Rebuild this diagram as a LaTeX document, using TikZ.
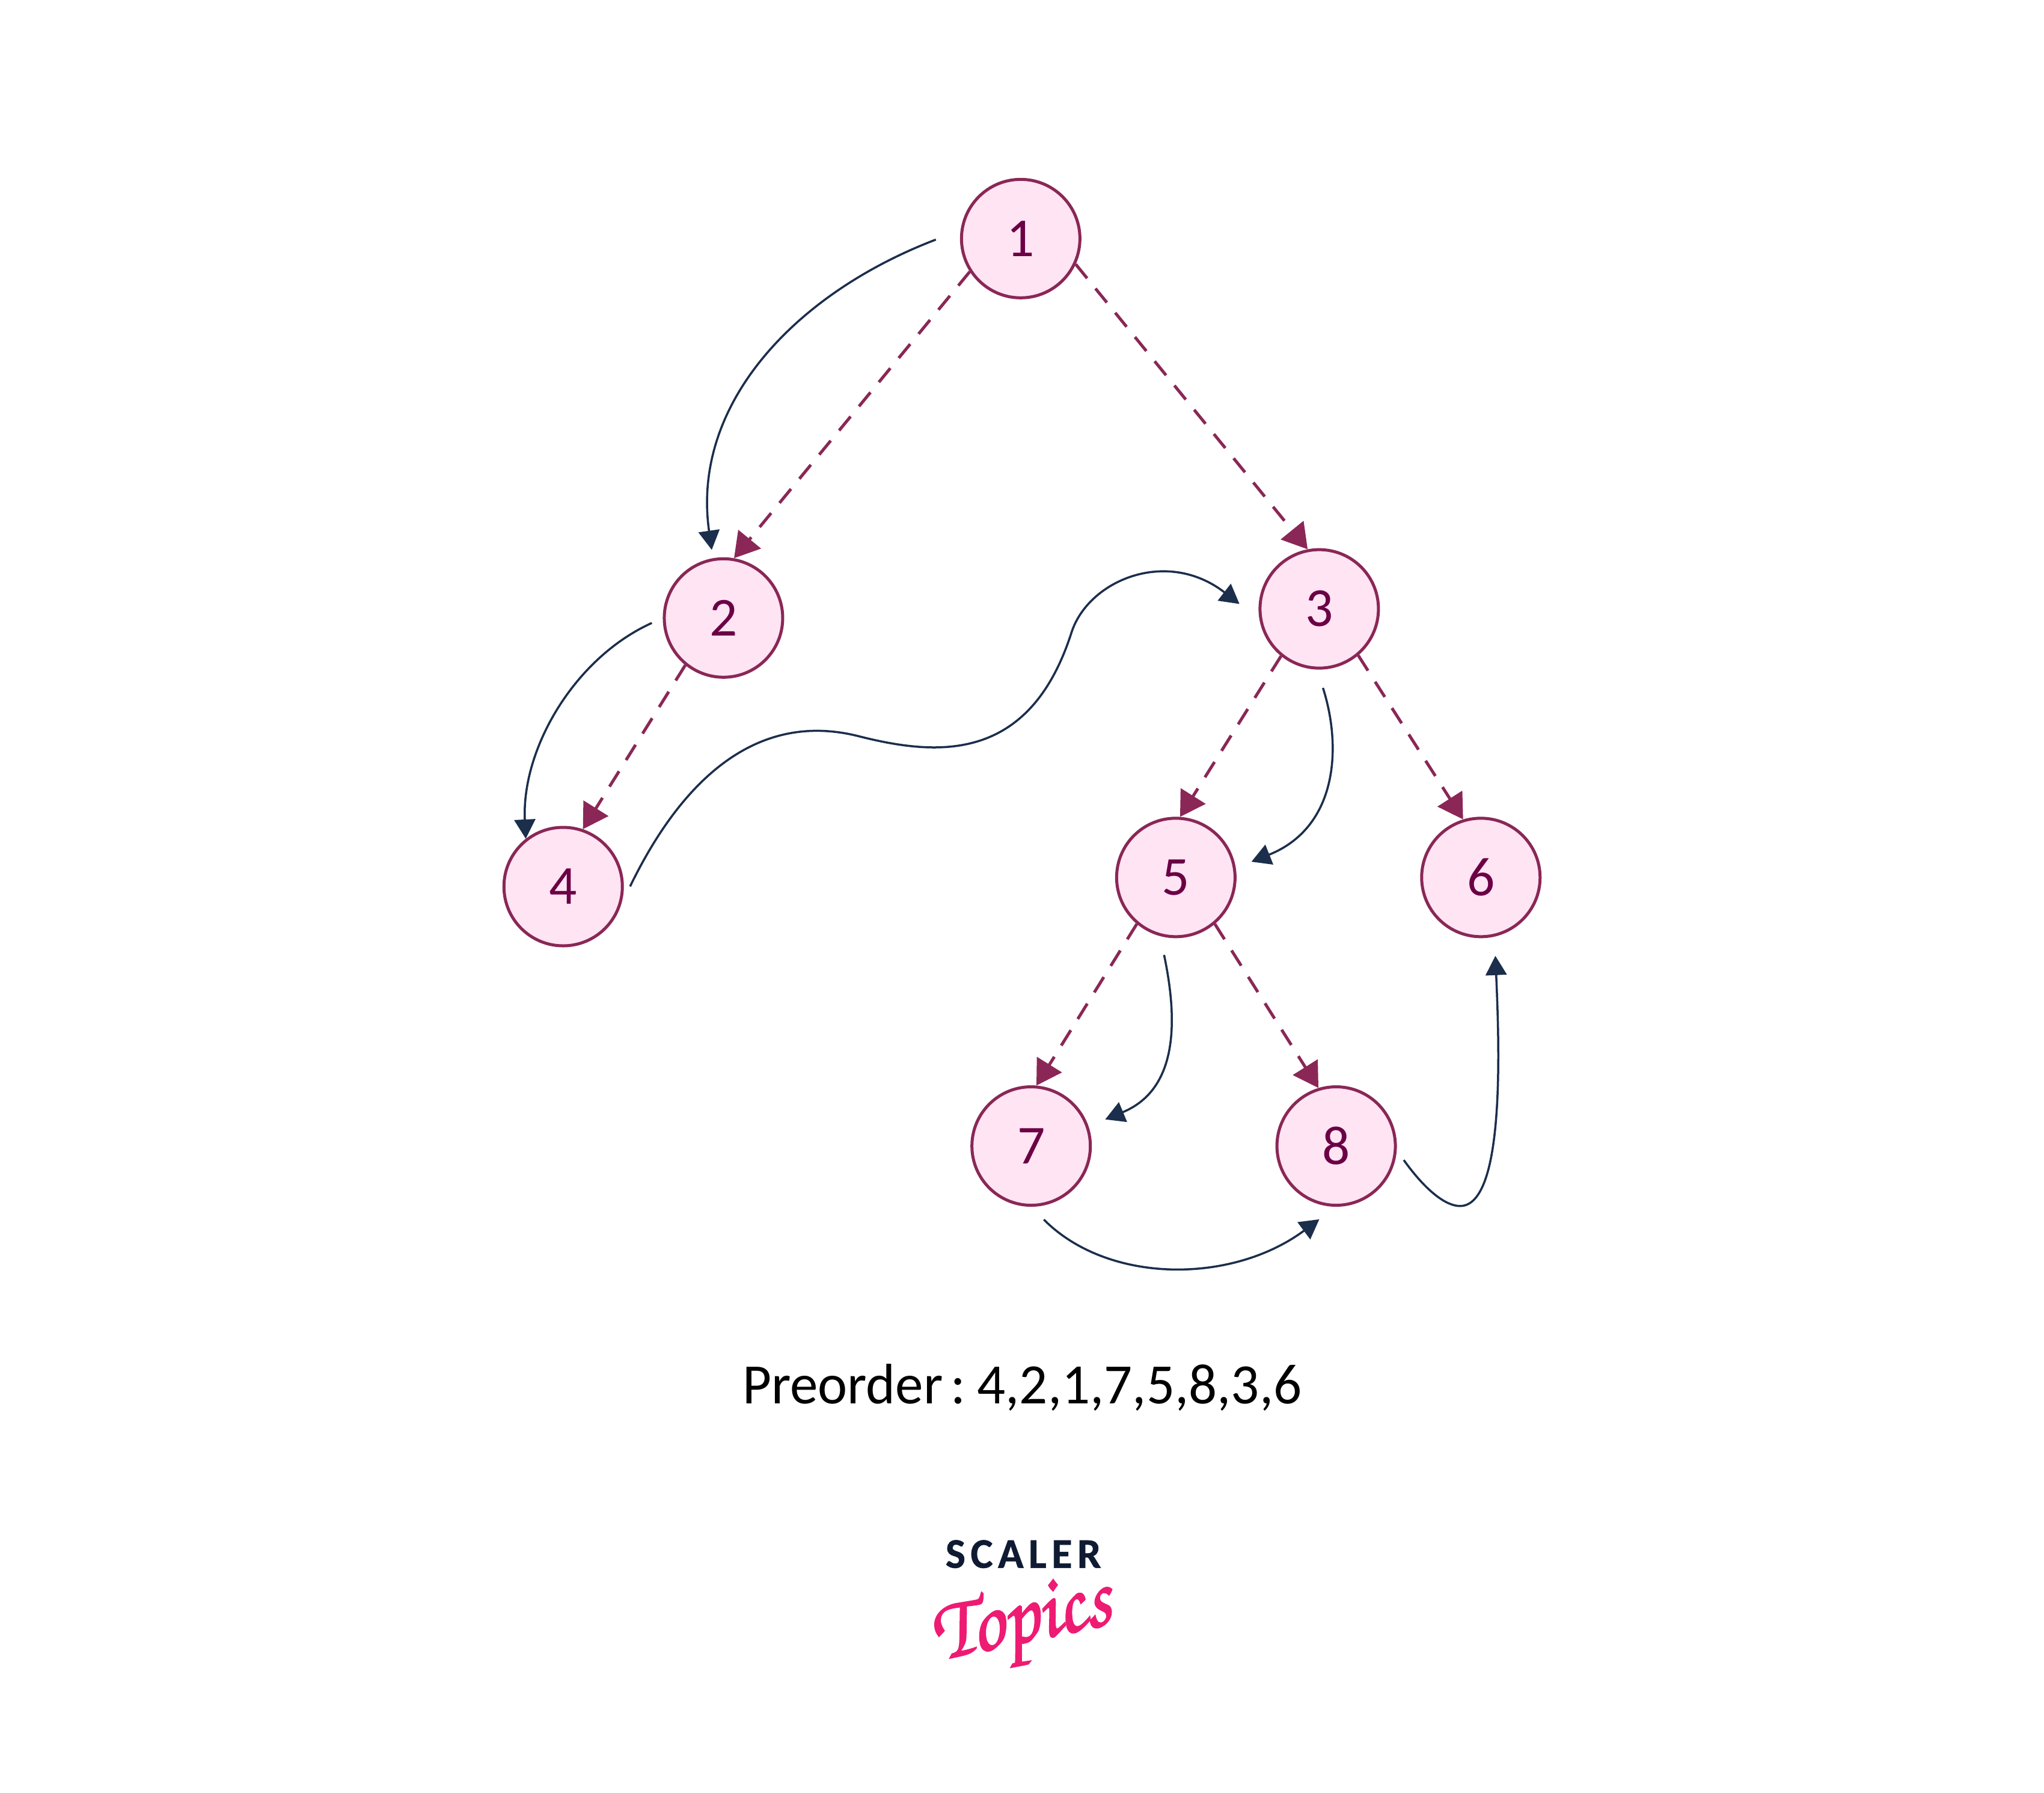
\documentclass[tikz,border=0pt]{standalone}
\usepackage{fontspec}
\setmainfont[WordSpace=0.6]{Carlito}
\newfontfamily\logofont[FakeBold=1.6]{TeX Gyre Chorus}
\usetikzlibrary{arrows.meta}
\definecolor{nodefill}{HTML}{FFE4F3}
\definecolor{nodeline}{HTML}{8A2756}
\definecolor{nodetext}{HTML}{6B0045}
\definecolor{flowline}{HTML}{1B2E4B}
\definecolor{logonavy}{HTML}{0F1B33}
\definecolor{logopink}{HTML}{EE1B73}
\tikzset{
    treenode/.style={circle,draw=nodeline,fill=nodefill,text=nodetext,line width=0.05cm,minimum size=1.97cm,inner sep=0pt,font=\fontsize{26}{26}\selectfont},
    edgearrow/.style={draw=nodeline,line width=0.05cm,dash pattern=on 0.3cm off 0.22cm,-{Triangle[length=0.41cm,width=0.48cm,fill=nodeline]}},
    flowarrow/.style={draw=flowline,line width=0.035cm,-{Triangle[length=0.32cm,width=0.35cm,fill=flowline]}},
}
\begin{document}
\begin{tikzpicture}[x=0.02168cm,y=-0.02168cm]
        \useasboundingbox (0,0) rectangle (1568,1375);
        %% nodes
        \node[treenode] (n1) at (783,183) {1};
        \node[treenode] (n2) at (555,474) {2};
        \node[treenode] (n3) at (1012,467) {3};
        \node[treenode] (n4) at (432,680) {4};
        \node[treenode] (n5) at (902,673) {5};
        \node[treenode] (n6) at (1136,673) {6};
        \node[treenode] (n7) at (791,879) {7};
        \node[treenode] (n8) at (1025,879) {8};
        %% tree edges
        \draw[edgearrow] (n1.213) -- (n2.80);
        \draw[edgearrow] (n1.-25) -- (n3.101);
        \draw[edgearrow] (n2.231) -- (n4.71);
        \draw[edgearrow] (n3.231) -- (n5.86);
        \draw[edgearrow] (n3.-50) -- (n6.107);
        \draw[edgearrow] (n5.230) -- (n7.85);
        \draw[edgearrow] (n5.-50) -- (n8.107);
        %% traversal
        \draw[flowarrow,shorten <=0.44cm,shorten >=0.14cm] (n1.172) .. controls (610,225) and (530,310) .. (n2.100);
        \draw[flowarrow,shorten <=0.2cm] (n2.180) .. controls (440,505) and (400,575) .. (n4.128);
        \draw[flowarrow,shorten <=0.35cm,shorten >=0.42cm] (n4.-18) .. controls (510,625) and (565,540) .. (660,565) .. controls (720,580) and (790,585) .. (822,485) .. controls (835,445) and (895,420) .. (n3.190);
        \draw[flowarrow,shorten <=0.32cm,shorten >=0.28cm] (n3.-92) .. controls (1030,575) and (1025,635) .. (n5.9);
        \draw[flowarrow,shorten <=0.32cm,shorten >=0.3cm] (n5.-105) .. controls (903,780) and (905,835) .. (n7.19);
        \draw[flowarrow,shorten <=0.3cm,shorten >=0.35cm] (n7.-90) .. controls (850,985) and (945,985) .. (n8.-90);
        \draw[flowarrow,shorten <=0.2cm,shorten >=0.32cm] (n8.-4) .. controls (1095,915) and (1110,925) .. (1120,925) .. controls (1155,925) and (1150,800) .. (n6.-77);
        %% caption and logo
        \node[font=\fontsize{27}{27}\selectfont,text=black,xscale=0.98] (caption) at (784,1064) {Preorder : 4,2,1,7,5,8,3,6};
        \node[font=\fontsize{20}{20}\selectfont\bfseries\addfontfeatures{LetterSpace=12,FakeBold=0.8},text=logonavy] (scaler) at (785,1192) {SCALER};
        \node[font=\logofont\fontsize{42}{42}\selectfont,text=logopink,rotate=12,xscale=0.92] (topics) at (784,1246) {Topics};
\end{tikzpicture}
\end{document}
